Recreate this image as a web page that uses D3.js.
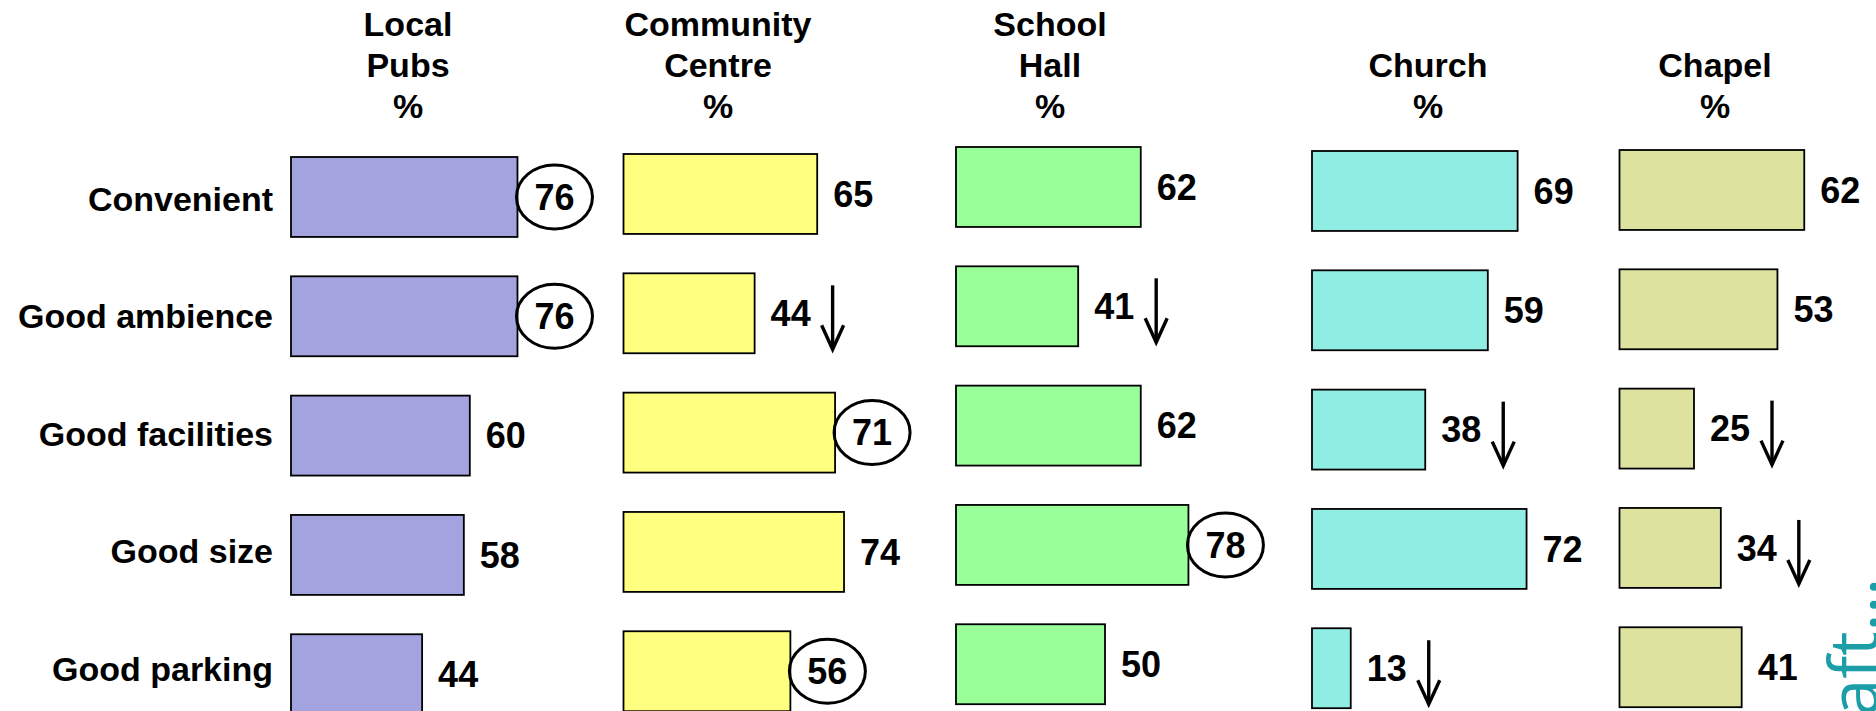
<!DOCTYPE html>
<html>
<head>
<meta charset="utf-8">
<script src="https://cdn.jsdelivr.net/npm/d3@7"></script>
<style>
  body { margin: 0; background: #fff; }
  svg text { font-family: "Liberation Sans", Arial, sans-serif; font-weight: bold; }
</style>
</head>
<body>
<div id="chart"></div>
<script>
// venues (columns) and attributes (rows)
var venues = ["Local Pubs", "Community Centre", "School Hall", "Church", "Chapel"];
var headerLines = [
  ["Local", "Pubs", "%"],
  ["Community", "Centre", "%"],
  ["School", "Hall", "%"],
  ["", "Church", "%"],
  ["", "Chapel", "%"]
];
var attributes = ["Convenient", "Good ambience", "Good facilities", "Good size", "Good parking"];

// percentages per venue, in attribute order
var localPubs = [76, 76, 60, 58, 44];
var communityCentre = [65, 44, 71, 74, 56];
var schoolHall = [62, 41, 62, 78, 50];
var church = [69, 59, 38, 72, 13];
var chapel = [62, 53, 25, 34, 41];

// circled (highest) and arrowed (significantly lower) values
var circled = [
  ["Local Pubs", "Convenient"],
  ["Local Pubs", "Good ambience"],
  ["Community Centre", "Good facilities"],
  ["Community Centre", "Good parking"],
  ["School Hall", "Good size"]
];
var lower = [
  ["Community Centre", "Good ambience"],
  ["School Hall", "Good ambience"],
  ["Church", "Good facilities"],
  ["Church", "Good parking"],
  ["Chapel", "Good facilities"],
  ["Chapel", "Good size"]
];

var series = [localPubs, communityCentre, schoolHall, church, chapel];
var colors = ["#a3a3e0", "#ffff80", "#99ff99", "#90ede4", "#dde29e"];

var width = 1876, height = 711;

// layout of the panels
var colLeft = d3.scaleOrdinal().domain(venues).range([291, 623.5, 956, 1312, 1619.5]);
var colTop = d3.scaleOrdinal().domain(venues).range([157, 154, 147, 151, 150]);
var headX = d3.scaleOrdinal().domain(venues).range([408, 718, 1050, 1428, 1715]);
var fill = d3.scaleOrdinal().domain(venues).range(colors);

var x = d3.scaleLinear().domain([0, 100]).range([0, 298]);
var y = d3.scaleBand().domain(attributes).range([0, 4 * 119.3 + 80]).paddingInner(0.33);
var labelY = d3.scalePoint().domain(attributes).range([199, 669]);

function isIn(list, v, a) {
  return list.some(function (p) { return p[0] === v && p[1] === a; });
}

var data = [];
venues.forEach(function (v, i) {
  attributes.forEach(function (a, j) {
    data.push({
      venue: v,
      attr: a,
      value: series[i][j],
      circled: isIn(circled, v, a),
      lower: isIn(lower, v, a)
    });
  });
});

var svg = d3.select("#chart")
  .append("svg")
  .attr("width", width)
  .attr("height", height);

// watermark at the right edge (cut off like the original)
svg.append("text")
  .attr("transform", "translate(1878,578) rotate(-90)")
  .style("font-family", "'Open Sans', sans-serif")
  .style("font-weight", "normal")
  .style("font-size", "68px")
  .style("text-anchor", "end")
  .attr("fill", "#1b9ea8")
  .text("Draft...");

// column headers
venues.forEach(function (v, i) {
  svg.append("g")
    .selectAll("text")
    .data(headerLines[i])
    .enter()
    .append("text")
    .attr("x", headX(v))
    .attr("y", function (d, k) { return 36 + k * 41; })
    .style("text-anchor", "middle")
    .style("font-size", "34px")
    .text(function (d) { return d; });
});

// row labels
svg.append("g")
  .selectAll("text")
  .data(attributes)
  .enter()
  .append("text")
  .attr("x", 273)
  .attr("y", function (d) { return labelY(d); })
  .attr("dy", "0.35em")
  .style("text-anchor", "end")
  .style("font-size", "34px")
  .text(function (d) { return d; });

var cells = svg.append("g")
  .selectAll(".cell")
  .data(data)
  .enter()
  .append("g")
  .attr("class", "cell")
  .attr("transform", function (d) {
    return "translate(" + colLeft(d.venue) + "," + (colTop(d.venue) + y(d.attr)) + ")";
  });

cells.append("rect")
  .attr("x", 0)
  .attr("y", 0)
  .attr("width", function (d) { return x(d.value); })
  .attr("height", y.bandwidth())
  .attr("fill", function (d) { return fill(d.venue); })
  .attr("stroke", "#000")
  .attr("stroke-width", 1.8);

// circles round the best scores
cells.filter(function (d) { return d.circled; })
  .append("ellipse")
  .attr("cx", function (d) { return x(d.value) + 37; })
  .attr("cy", y.bandwidth() / 2)
  .attr("rx", 38)
  .attr("ry", 32)
  .attr("fill", "none")
  .attr("stroke", "#000")
  .attr("stroke-width", 3);

cells.append("text")
  .attr("x", function (d) { return d.circled ? x(d.value) + 37 : x(d.value) + 16; })
  .attr("y", y.bandwidth() / 2)
  .attr("dy", "0.35em")
  .style("text-anchor", function (d) { return d.circled ? "middle" : "start"; })
  .style("font-size", "36px")
  .text(function (d) { return d.value; });

// down arrows
var arrows = cells.filter(function (d) { return d.lower; })
  .append("g")
  .attr("transform", function (d) { return "translate(" + (x(d.value) + 78) + ",12)"; })
  .attr("stroke", "#000")
  .attr("stroke-width", 3.4)
  .attr("fill", "none");

arrows.append("line")
  .attr("x1", 0).attr("y1", 0)
  .attr("x2", 0).attr("y2", 63);

arrows.append("path")
  .attr("d", "M-11,40L0,64L11,40");
</script>
</body>
</html>
